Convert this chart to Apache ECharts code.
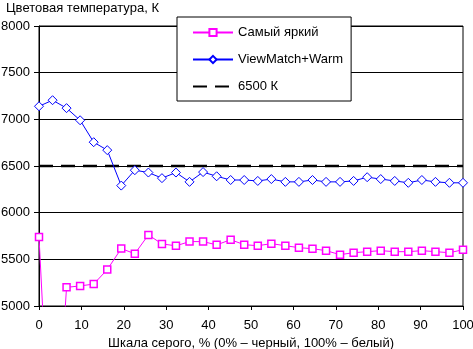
<!DOCTYPE html>
<html><head><meta charset="utf-8">
<script src="https://cdn.jsdelivr.net/npm/echarts@6/dist/echarts.min.js"></script>
<style>html,body{margin:0;padding:0;background:#fff}#c{width:473px;height:349px}</style>
</head><body><div id="c"></div>
<script>
const titleText = 'Цветовая температура, К';
const xName = 'Шкала серого, % (0% – черный, 100% – белый)';
const grayLevels = [0, 3.2, 6.5, 9.7, 12.9, 16.1, 19.4, 22.6, 25.8, 29.0, 32.3, 35.5, 38.7, 41.9, 45.2, 48.4, 51.6, 54.8, 58.1, 61.3, 64.5, 67.7, 71.0, 74.2, 77.4, 80.6, 83.9, 87.1, 90.3, 93.5, 96.8, 100];
const brightName = 'Самый яркий';
const brightValues = [5740, 2900, 5200, 5215, 5235, 5390, 5615, 5560, 5762, 5665, 5645, 5690, 5690, 5655, 5710, 5657, 5646, 5668, 5646, 5625, 5614, 5593, 5550, 5571, 5582, 5593, 5582, 5582, 5593, 5582, 5571, 5603];
const warmName = 'ViewMatch+Warm';
const warmValues = [7140, 7205, 7120, 6990, 6755, 6670, 6290, 6455, 6430, 6370, 6430, 6330, 6435, 6390, 6350, 6350, 6340, 6360, 6330, 6330, 6350, 6330, 6330, 6340, 6380, 6360, 6340, 6320, 6350, 6330, 6320, 6320];
const refName = '6500 К';
const refX = [0, 100];
const refValues = [6500, 6500];

const font = "'Liberation Sans', Arial, sans-serif";
const pair = (xs, ys) => xs.map((x, i) => [x, ys[i]]);

const chart = echarts.init(document.getElementById('c'), null, {renderer: 'canvas'});
chart.setOption({
  animation: false,
  backgroundColor: '#fff',
  textStyle: {fontFamily: font, color: '#000'},
  title: {
    text: titleText, left: 1, top: -3,
    textStyle: {fontFamily: font, fontSize: 13, fontWeight: 'normal', color: '#000'}
  },
  grid: {left: 39, right: 10, top: 26, bottom: 43, outerBoundsMode: 'none', containLabel: false,
    show: true, borderColor: '#000', borderWidth: 1, backgroundColor: 'transparent'},
  legend: {
    orient: 'vertical', left: 177, top: 17,
    padding: [8, 8, 7, 15],
    itemGap: 12, itemWidth: 40, itemHeight: 9,
    backgroundColor: '#fff', borderColor: '#000', borderWidth: 1,
    textStyle: {fontFamily: font, fontSize: 13, color: '#000', lineHeight: 15},
    data: [
      {name: brightName},
      {name: warmName},
      {name: refName, itemStyle: {opacity: 0}}
    ]
  },
  xAxis: {
    type: 'value', min: 0, max: 100, interval: 10,
    name: xName, nameLocation: 'middle', nameGap: 29,
    nameTextStyle: {fontFamily: font, fontSize: 13, color: '#000'},
    axisLine: {lineStyle: {color: '#000', width: 1}},
    axisTick: {show: true, length: 4, lineStyle: {color: '#000'}},
    axisLabel: {fontFamily: font, fontSize: 13, color: '#000', margin: 13},
    splitLine: {show: false}
  },
  yAxis: {
    type: 'value', min: 5000, max: 8000, interval: 500,
    axisLine: {show: true, lineStyle: {color: '#000', width: 1}},
    axisTick: {show: true, length: 5, lineStyle: {color: '#000'}},
    axisLabel: {fontFamily: font, fontSize: 13, color: '#000', margin: 9, formatter: v => String(v)},
    splitLine: {show: true, lineStyle: {color: '#000', width: 1}}
  },
  series: [
    {
      name: brightName, type: 'line', data: pair(grayLevels, brightValues),
      symbol: 'rect', symbolSize: 7, showAllSymbol: true, clip: true,
      lineStyle: {color: '#ff00ff', width: 1},
      itemStyle: {color: '#fff', borderColor: '#ff00ff', borderWidth: 1.5}
    },
    {
      name: warmName, type: 'line', data: pair(grayLevels, warmValues),
      symbol: 'diamond', symbolSize: 9, showAllSymbol: true, clip: true,
      lineStyle: {color: '#0000ff', width: 1},
      itemStyle: {color: '#fff', borderColor: '#0000ff', borderWidth: 1}
    },
    {
      name: refName, type: 'line', data: pair(refX, refValues),
      symbol: 'none', z: 1,
      lineStyle: {color: '#000', width: 2.5, type: [14, 8]},
      itemStyle: {color: '#000'}
    }
  ]
});
</script></body></html>
